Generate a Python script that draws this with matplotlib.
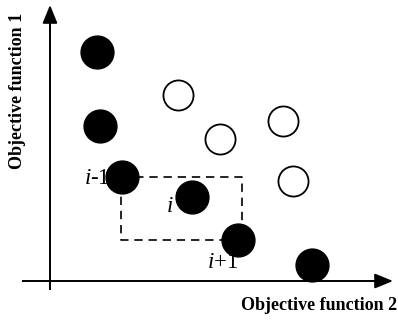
import matplotlib
matplotlib.use("Agg")
import matplotlib.pyplot as plt

plt.rcParams["mathtext.fontset"] = "custom"
plt.rcParams["mathtext.it"] = "Liberation Serif:italic"
plt.rcParams["mathtext.rm"] = "Liberation Serif"

# Data (objective space, arbitrary units; origin at axis crossing)
filled_f2 = [47, 50, 72, 142, 188, 262]
filled_f1 = [229, 155, 104, 84, 41, 16]
open_f2 = [128, 170, 233, 243]
open_f1 = [186, 142, 160, 100]
labels = ["$i$-1", "$i$", "$i$+1"]

fig = plt.figure(figsize=(3.98, 3.23), dpi=100)
ax = fig.add_axes([0, 0, 1, 1])
ax.set_xlim(-50, 348)
ax.set_ylim(-42, 281)
ax.axis("off")

# axes with arrows
ax.plot([-28, 330], [0, 0], color="black", lw=1.4, solid_capstyle="butt")
ax.plot([0, 0], [-9, 262], color="black", lw=1.4, solid_capstyle="butt")
ax.annotate("", xy=(343, 0), xytext=(320, 0),
            arrowprops=dict(arrowstyle="-|>,head_length=1.1,head_width=0.45",
                            color="black", lw=1.4, shrinkA=0, shrinkB=0))
ax.annotate("", xy=(0, 276), xytext=(0, 250),
            arrowprops=dict(arrowstyle="-|>,head_length=1.1,head_width=0.45",
                            color="black", lw=1.4, shrinkA=0, shrinkB=0))

# dashed rectangle between i-1 and i+1
x0, y0 = filled_f2[2] - 1, filled_f1[2]
x1, y1 = filled_f2[4] + 4, filled_f1[4]
ax.plot([x0, x1, x1, x0, x0], [y0, y0, y1, y1, y0], color="black",
        lw=1.2, ls=(0, (5, 3.5)), zorder=1)

ax.scatter(filled_f2, filled_f1, s=560, color="black", zorder=3)
ax.scatter(open_f2, open_f1, s=470, facecolor="white", edgecolor="black",
           linewidth=1.3, zorder=3)

tfont = dict(family="Liberation Serif", fontsize=16.5)
ax.text(60, 102, labels[0], ha="right", va="center", **tfont)
ax.text(120, 74, labels[1], ha="center", va="center", **tfont)
ax.text(157, 19, labels[2], ha="left", va="center", **tfont)

ax.text(269, -25, "Objective function 2", ha="center", va="center",
        family="Liberation Serif", fontweight="bold", fontsize=13)
ax.text(-32, 190, "Objective function 1", ha="center", va="center", rotation=90,
        family="Liberation Serif", fontweight="bold", fontsize=13)

fig.savefig("out.png", dpi=100)
